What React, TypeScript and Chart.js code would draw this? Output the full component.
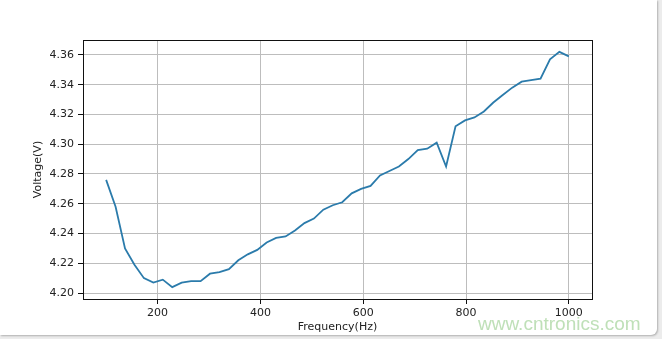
import React, { useEffect, useRef } from "react";
import { Chart, registerables } from "chart.js";

Chart.register(...registerables);

const frequencies: number[] = [
  100.0, 118.4, 136.7, 155.1, 173.5, 191.8, 210.2, 228.6, 246.9, 265.3,
  283.7, 302.0, 320.4, 338.8, 357.1, 375.5, 393.9, 412.2, 430.6, 449.0,
  467.3, 485.7, 504.1, 522.4, 540.8, 559.2, 577.6, 595.9, 614.3, 632.7,
  651.0, 669.4, 687.8, 706.1, 724.5, 742.9, 761.2, 779.6, 798.0, 816.3,
  834.7, 853.1, 871.4, 889.8, 908.2, 926.5, 944.9, 963.3, 981.6, 1000.0,
];

const voltages: number[] = [
  4.276, 4.258, 4.230, 4.219, 4.210, 4.207, 4.209, 4.204, 4.207, 4.208,
  4.208, 4.213, 4.214, 4.216, 4.222, 4.226, 4.229, 4.234, 4.237, 4.238,
  4.242, 4.247, 4.250, 4.256, 4.259, 4.261, 4.267, 4.270, 4.272, 4.279,
  4.282, 4.285, 4.290, 4.296, 4.297, 4.301, 4.285, 4.312, 4.316, 4.318,
  4.322, 4.328, 4.333, 4.338, 4.342, 4.343, 4.344, 4.357, 4.362, 4.359,
];

const xTickValues: number[] = [200, 400, 600, 800, 1000];
const yTickValues: number[] = [4.2, 4.22, 4.24, 4.26, 4.28, 4.3, 4.32, 4.34, 4.36];

const xTitle = "Frequency(Hz)";
const yTitle = "Voltage(V)";
const watermark = "www.cntronics.com";

const FONT = "'DejaVu Sans', sans-serif";

const frameBox = {
  id: "frameBox",
  afterDraw(chart: any) {
    const { ctx, chartArea } = chart;
    ctx.save();
    ctx.strokeStyle = "#111";
    ctx.lineWidth = 1;
    ctx.strokeRect(
      Math.round(chartArea.left) + 0.5,
      Math.round(chartArea.top) + 0.5,
      Math.round(chartArea.right - chartArea.left),
      Math.round(chartArea.bottom - chartArea.top)
    );
    ctx.restore();
  },
};

export default function App() {
  const ref = useRef<HTMLCanvasElement>(null);

  useEffect(() => {
    if (!ref.current) return;
    const points = frequencies.map((f, i) => ({ x: f, y: voltages[i] }));
    const chart = new Chart(ref.current, {
      type: "line",
      data: {
        datasets: [
          {
            data: points,
            borderColor: "#2b7bab",
            borderWidth: 1.8,
            pointRadius: 0,
            tension: 0,
            fill: false,
          },
        ],
      },
      options: {
        responsive: false,
        animation: false,
        layout: { padding: { top: 40, right: 70, left: 0, bottom: 0 } },
        plugins: { legend: { display: false }, tooltip: { enabled: false } },
        scales: {
          x: {
            type: "linear",
            min: 55,
            max: 1045,
            afterBuildTicks: (s: any) => {
              s.ticks = xTickValues.map((v) => ({ value: v }));
            },
            afterFit: (s: any) => {
              s.height = 40;
            },
            ticks: {
              color: "#222",
              font: { family: FONT, size: 11 },
              padding: 3,
              maxRotation: 0,
              autoSkip: false,
              callback: (v: any) => String(v),
            },
            grid: {
              color: "#bdbdbd",
              lineWidth: 1,
              tickLength: 5,
              tickColor: "#111",
              drawTicks: true,
            },
            border: { display: true, color: "#111", width: 1 },
            title: {
              display: true,
              text: xTitle,
              color: "#222",
              font: { family: FONT, size: 11 },
              padding: { top: 0, bottom: 5 },
            },
          },
          y: {
            type: "linear",
            min: 4.196,
            max: 4.37,
            afterBuildTicks: (s: any) => {
              s.ticks = yTickValues.map((v) => ({ value: v }));
            },
            afterFit: (s: any) => {
              s.width = 83;
            },
            ticks: {
              color: "#222",
              font: { family: FONT, size: 11 },
              padding: 4,
              autoSkip: false,
              callback: (v: any) => Number(v).toFixed(2),
            },
            grid: {
              color: "#bdbdbd",
              lineWidth: 1,
              tickLength: 5,
              tickColor: "#111",
              drawTicks: true,
            },
            border: { display: true, color: "#111", width: 1 },
            title: {
              display: true,
              text: yTitle,
              color: "#222",
              font: { family: FONT, size: 11 },
              padding: { top: 32, bottom: 0 },
            },
          },
        },
      },
      plugins: [frameBox],
    });
    return () => chart.destroy();
  }, []);

  return (
    <div
      style={{
        position: "fixed",
        left: 0,
        top: 0,
        width: 662,
        height: 339,
        background: "#ececec",
        overflow: "hidden",
      }}
    >
      <div
        style={{
          position: "absolute",
          left: 0,
          top: 0,
          width: 657,
          height: 335,
          background: "#fff",
          borderRadius: "0 0 6px 0",
          boxShadow: "1px 1px 2px rgba(0,0,0,0.25)",
        }}
      />
      <canvas
        ref={ref}
        width={662}
        height={339}
        style={{ position: "absolute", left: 0, top: 0, display: "block" }}
      />
      <div
        style={{
          position: "absolute",
          left: 478,
          top: 314,
          fontFamily: "'Liberation Sans', Arial, sans-serif",
          fontSize: 19,
          lineHeight: "19px",
          color: "#bfe0b8",
          whiteSpace: "nowrap",
        }}
      >
        {watermark}
      </div>
    </div>
  );
}
